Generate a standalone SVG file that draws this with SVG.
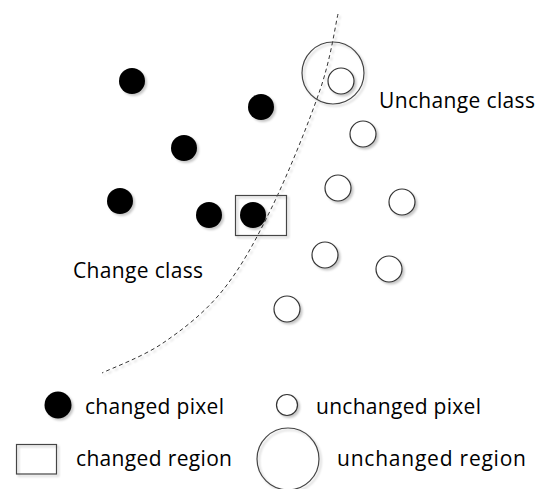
<svg xmlns="http://www.w3.org/2000/svg" width="537" height="489" viewBox="0 0 537 489">
  <defs>
    <filter id="shadow" x="-20%" y="-20%" width="150%" height="150%">
      <feDropShadow dx="2" dy="2" stdDeviation="1" flood-color="#000" flood-opacity="0.22"/>
    </filter>
  </defs>
  <style>
    .chg { fill: #000; filter: url(#shadow); }
    .unc { fill: #fff; stroke: #333; stroke-width: 1.2; filter: url(#shadow); }
    .region { fill: none; stroke: #444; stroke-width: 1.2; filter: url(#shadow); }
    .boundary { fill: none; stroke: #333; stroke-width: 1; stroke-dasharray: 4 3; filter: url(#shadow); }
    .label { font-family: "Open Sans", "Liberation Sans", sans-serif; font-size: 21px; fill: #000; }
  </style>

  <rect width="537" height="489" fill="#fff"/>

  <!-- class boundary -->
  <g id="connectors">
    <path class="boundary" d="M338,14 C335,26.7 331,57.8 320,90 C309,122.2 288.2,173.7 272,207 C255.8,240.3 241.2,267.3 223,290 C204.8,312.7 183.2,329.2 163,343 C142.8,356.8 112.2,368 102,373"/>
  </g>

  <!-- changed pixels -->
  <g id="changed-pixels">
    <circle id="c1" class="chg" cx="132" cy="81" r="13"/>
    <circle id="c2" class="chg" cx="261" cy="107" r="13"/>
    <circle id="c3" class="chg" cx="184" cy="148" r="13"/>
    <circle id="c4" class="chg" cx="120" cy="201" r="13"/>
    <circle id="c5" class="chg" cx="209" cy="215" r="13"/>
    <circle id="c6" class="chg" cx="253" cy="215" r="13"/>
  </g>

  <!-- unchanged pixels -->
  <g id="unchanged-pixels">
    <circle id="u1" class="unc" cx="341" cy="81" r="13"/>
    <circle id="u2" class="unc" cx="363" cy="134" r="13"/>
    <circle id="u3" class="unc" cx="338" cy="188" r="13"/>
    <circle id="u4" class="unc" cx="402" cy="202" r="13"/>
    <circle id="u5" class="unc" cx="325" cy="255" r="13"/>
    <circle id="u6" class="unc" cx="389" cy="269" r="13"/>
    <circle id="u7" class="unc" cx="287" cy="309" r="13"/>
  </g>

  <!-- regions -->
  <g id="changed-region">
    <rect class="region" x="235.5" y="195.5" width="51" height="40"/>
  </g>
  <g id="unchanged-region">
    <circle class="region" cx="333" cy="73" r="31"/>
  </g>

  <!-- class labels -->
  <g id="label-unchange">
    <text class="label" x="379" y="108" textLength="156" lengthAdjust="spacing">Unchange class</text>
  </g>
  <g id="label-change">
    <text class="label" x="73" y="278" textLength="130" lengthAdjust="spacing">Change class</text>
  </g>

  <!-- legend -->
  <g id="legend-changed-pixel">
    <circle class="chg" cx="58" cy="405" r="13.5"/>
    <text class="label" x="85" y="414" textLength="139" lengthAdjust="spacing">changed pixel</text>
  </g>
  <g id="legend-unchanged-pixel">
    <circle class="unc" cx="287" cy="405" r="10.5"/>
    <text class="label" x="316" y="414" textLength="165" lengthAdjust="spacing">unchanged pixel</text>
  </g>
  <g id="legend-changed-region">
    <rect class="region" x="16.5" y="444.5" width="40" height="29.5"/>
    <text class="label" x="76" y="466" textLength="156" lengthAdjust="spacing">changed region</text>
  </g>
  <g id="legend-unchanged-region">
    <circle class="region" cx="288" cy="459" r="31"/>
    <text class="label" x="337" y="466" textLength="189" lengthAdjust="spacing">unchanged region</text>
  </g>
</svg>
